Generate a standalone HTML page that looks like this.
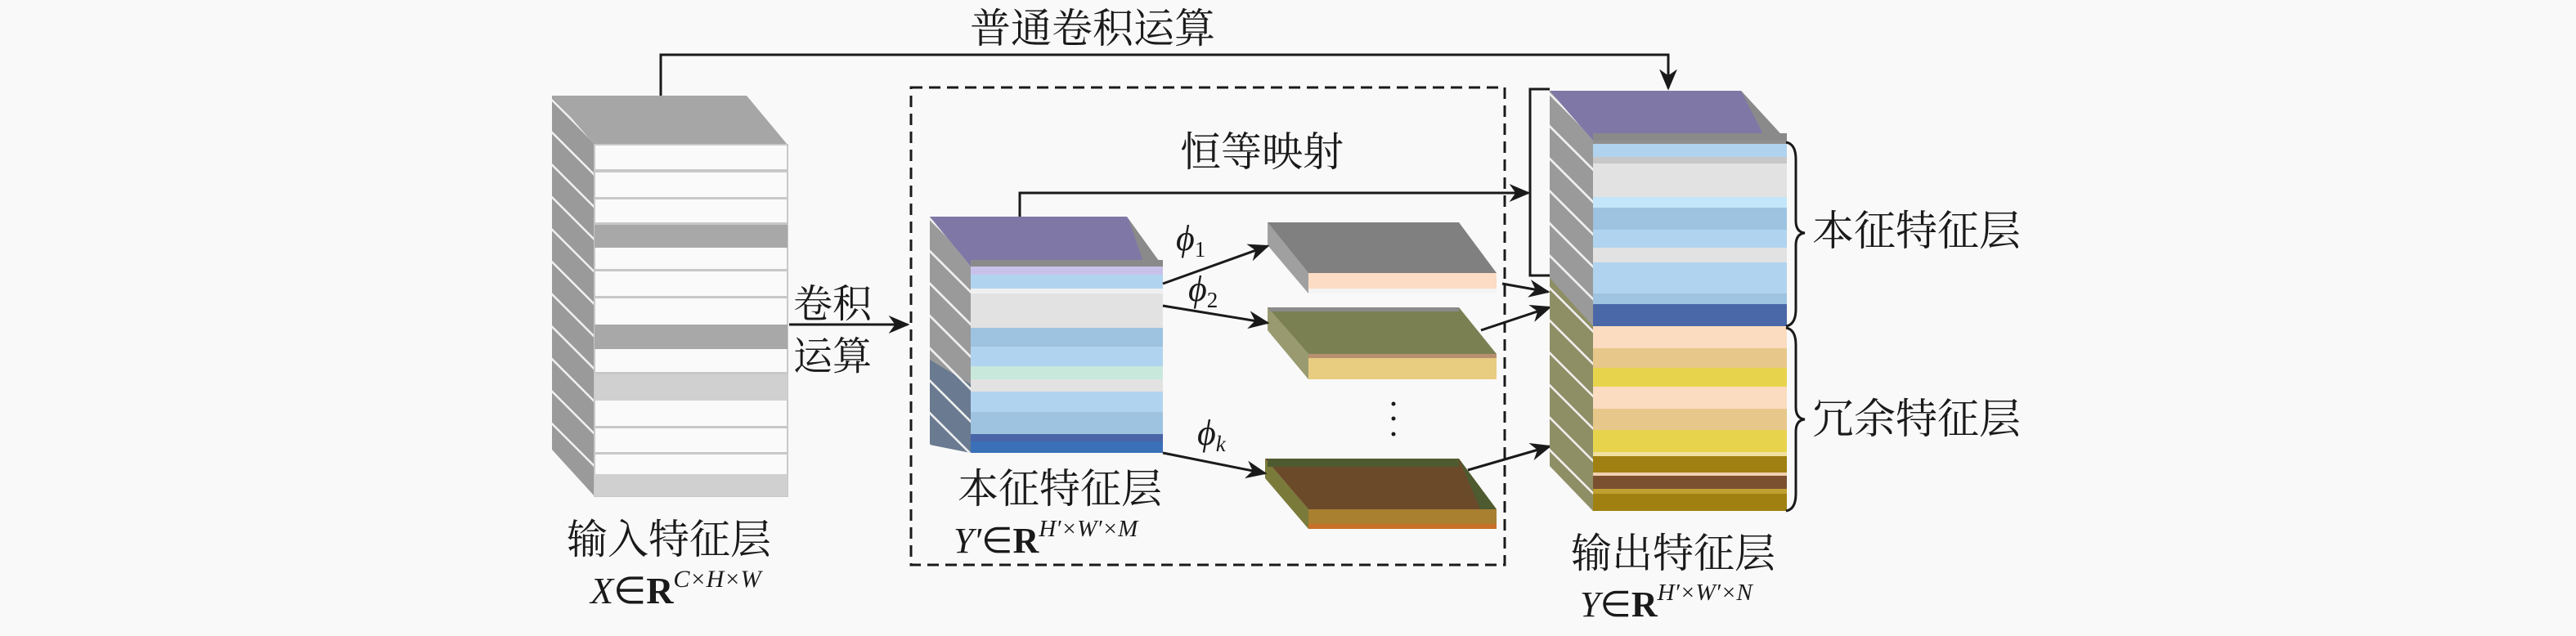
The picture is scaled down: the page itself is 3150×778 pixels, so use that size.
<!DOCTYPE html>
<html><head><meta charset="utf-8"><style>
html,body{margin:0;padding:0;background:#f9f9f9;}
svg{display:block}
.cj{font-family:"Noto Serif CJK SC","Liberation Serif",serif;fill:#1a1a1a}
.m{font-family:"Liberation Serif",serif;font-style:italic;fill:#1a1a1a}
.b{font-family:"Liberation Serif",serif;font-weight:bold;font-style:normal}
.e{font-family:"Liberation Serif",serif;font-style:normal}
</style></head><body>
<svg width="3150" height="778" viewBox="0 0 3150 778" xmlns="http://www.w3.org/2000/svg">
<defs>
<pattern id="h" patternUnits="userSpaceOnUse" width="28" height="28" patternTransform="rotate(45)">
<rect width="28" height="28" fill="#9a9a9a"/><rect x="0" y="0" width="28" height="2.5" fill="#f0f0f0"/>
</pattern>
<pattern id="h2" patternUnits="userSpaceOnUse" width="28" height="28" patternTransform="rotate(45)">
<rect width="28" height="28" fill="rgba(0,0,0,0)"/><rect x="0" y="0" width="28" height="2.5" fill="#f0f0f0"/>
</pattern>
<marker id="arB" viewBox="0 0 10 10" refX="9" refY="5" markerWidth="26" markerHeight="22" markerUnits="userSpaceOnUse" orient="auto" preserveAspectRatio="none">
<path d="M0,0 L10,5 L0,10 L3,5 z" fill="#1a1a1a"/></marker>
</defs>
<rect width="3150" height="778" fill="#f9f9f9"/>

<text x="1336" y="52" class="cj" font-size="50" text-anchor="middle">普通卷积运算</text>
<polyline points="808,117 808,67 2040,67 2040,108" fill="none" stroke="#1a1a1a" stroke-width="3" marker-end="url(#arB)"/>

<!-- input stack -->
<polygon points="675,117 727,177 727,607 675,550" fill="url(#h)"/>
<polygon points="675,117 913,117 963,177 727,177" fill="#a6a6a6"/>
<rect x="727" y="177" width="236" height="430" fill="#fafafa" stroke="#c8c8c8" stroke-width="2"/>
<g fill="#c8c8c8">
<rect x="727" y="207" width="236" height="4"/><rect x="727" y="241" width="236" height="3"/>
<rect x="727" y="272" width="236" height="3"/><rect x="727" y="329" width="236" height="3"/>
<rect x="727" y="362" width="236" height="3"/><rect x="727" y="455" width="236" height="3"/>
<rect x="727" y="521" width="236" height="3"/><rect x="727" y="553" width="236" height="3"/>
</g>
<rect x="727" y="275" width="236" height="28" fill="#a8a8a8"/>
<rect x="727" y="397" width="236" height="30" fill="#a8a8a8"/>
<rect x="727" y="458" width="236" height="32" fill="#d0d0d0"/>
<rect x="727" y="580" width="236" height="27" fill="#d0d0d0"/>
<text x="818" y="677" class="cj" font-size="50" text-anchor="middle">输入特征层</text>
<text x="722" y="738" class="m" font-size="46">X<tspan class="e">∈</tspan><tspan class="b">R</tspan><tspan font-size="30" dy="-20">C×H×W</tspan></text>

<text x="1018" y="388" class="cj" font-size="48" text-anchor="middle">卷积</text>
<text x="1018" y="452" class="cj" font-size="48" text-anchor="middle">运算</text>
<line x1="965" y1="397" x2="1110" y2="397" stroke="#1a1a1a" stroke-width="3" marker-end="url(#arB)"/>

<rect x="1114" y="107" width="726" height="584" fill="none" stroke="#1a1a1a" stroke-width="3" stroke-dasharray="14,8"/>

<text x="1543" y="203" class="cj" font-size="50" text-anchor="middle">恒等映射</text>
<polyline points="1247,265 1247,236 1869,236" fill="none" stroke="#1a1a1a" stroke-width="3" marker-end="url(#arB)"/>
<polyline points="1895,109 1871,109 1871,337 1895,337" fill="none" stroke="#1a1a1a" stroke-width="3"/>

<!-- middle stack -->
<polygon points="1137,265 1187,326 1187,554 1137,544" fill="url(#h)"/>
<polygon points="1137,440 1187,470 1187,554 1137,544" fill="#3a5a88" opacity="0.5"/>
<polygon points="1137,265 1137,544 1187,554 1187,326" fill="url(#h2)"/>
<polygon points="1137,265 1378,265 1422,326 1187,326" fill="#7f78a6"/>
<polygon points="1380,268 1422,326 1400,326" fill="#8a8a8a"/>
<rect x="1187" y="318" width="235" height="8" fill="#8a8a8a"/>
<rect x="1187" y="326" width="235" height="10" fill="#c8c2ea"/>
<rect x="1187" y="336" width="235" height="17" fill="#b0d4f0"/>
<rect x="1187" y="353" width="235" height="6" fill="#f0f0f0"/>
<rect x="1187" y="359" width="235" height="42" fill="#e2e2e2"/>
<rect x="1187" y="401" width="235" height="23" fill="#9dc3e0"/>
<rect x="1187" y="424" width="235" height="24" fill="#b0d4f0"/>
<rect x="1187" y="448" width="235" height="16" fill="#c8e8dc"/>
<rect x="1187" y="464" width="235" height="15" fill="#e2e2e2"/>
<rect x="1187" y="479" width="235" height="25" fill="#b0d4f0"/>
<rect x="1187" y="504" width="235" height="27" fill="#9dc3e0"/>
<rect x="1187" y="531" width="235" height="9" fill="#4a64a8"/>
<rect x="1187" y="540" width="235" height="14" fill="#3a70b8"/>
<text x="1296" y="615" class="cj" font-size="50" text-anchor="middle">本征特征层</text>
<text x="1166" y="676" class="m" font-size="44">Y′<tspan class="e">∈</tspan><tspan class="b">R</tspan><tspan font-size="29" dy="-20">H′×W′×M</tspan></text>

<!-- slabs -->
<polygon points="1550,272 1600,334 1600,359 1550,300" fill="#a0a0a0"/>
<polygon points="1550,272 1784,272 1830,334 1600,334" fill="#808080"/>
<rect x="1600" y="334" width="230" height="19" fill="#fcdcc4"/>
<rect x="1600" y="353" width="230" height="6" fill="#f4f4f4"/>

<polygon points="1550,376 1600,433 1600,464 1550,404" fill="#9a9a70"/>
<polygon points="1550,376 1784,376 1830,433 1600,433" fill="#7a8052"/>
<rect x="1552" y="376" width="232" height="5" fill="#8a8a8a"/>
<rect x="1600" y="433" width="230" height="5" fill="#b89070"/>
<rect x="1600" y="438" width="230" height="26" fill="#e8cc80"/>

<polygon points="1547,561 1600,623 1600,647 1547,585" fill="#7a7a3a"/>
<polygon points="1547,561 1784,561 1830,623 1600,623" fill="#6b4a2a"/>
<rect x="1550" y="561" width="234" height="10" fill="#4e5a30"/>
<polygon points="1784,561 1830,623 1810,623" fill="#4e5a30"/>
<rect x="1600" y="623" width="230" height="20" fill="#a88030"/>
<rect x="1600" y="641" width="230" height="6" fill="#c87028"/>

<circle cx="1704" cy="494" r="2.5" fill="#1a1a1a"/><circle cx="1704" cy="512" r="2.5" fill="#1a1a1a"/><circle cx="1704" cy="531" r="2.5" fill="#1a1a1a"/>

<line x1="1422" y1="347" x2="1550" y2="301" stroke="#1a1a1a" stroke-width="3" marker-end="url(#arB)"/>
<line x1="1422" y1="374" x2="1550" y2="395" stroke="#1a1a1a" stroke-width="3" marker-end="url(#arB)"/>
<line x1="1422" y1="554" x2="1547" y2="579" stroke="#1a1a1a" stroke-width="3" marker-end="url(#arB)"/>
<text x="1438" y="306" class="m" font-size="44">ϕ<tspan font-size="27" dy="8" font-style="normal">1</tspan></text>
<text x="1453" y="368" class="m" font-size="44">ϕ<tspan font-size="27" dy="8" font-style="normal">2</tspan></text>
<text x="1464" y="544" class="m" font-size="44">ϕ<tspan font-size="27" dy="8">k</tspan></text>

<line x1="1837" y1="347" x2="1893" y2="357" stroke="#1a1a1a" stroke-width="3" marker-end="url(#arB)"/>
<line x1="1811" y1="404" x2="1895" y2="376" stroke="#1a1a1a" stroke-width="3" marker-end="url(#arB)"/>
<line x1="1795" y1="575" x2="1895" y2="546" stroke="#1a1a1a" stroke-width="3" marker-end="url(#arB)"/>

<!-- output stack -->
<polygon points="1895,111 1948,172 1948,625 1895,570" fill="url(#h)"/>
<polygon points="1895,340 1948,399 1948,625 1895,570" fill="#8a8a50" opacity="0.7"/>
<polygon points="1895,111 1948,172 1948,625 1895,570" fill="url(#h2)"/>
<polygon points="1895,111 2129,111 2185,172 1948,172" fill="#7f78a6"/>
<polygon points="2129,111 2185,172 2160,172" fill="#8a8a8a"/>
<rect x="1948" y="163" width="237" height="9" fill="#8a8a8a"/>
<rect x="1948" y="172" width="237" height="4" fill="#909090"/>
<rect x="1948" y="176" width="237" height="16" fill="#b0d4f0"/>
<rect x="1948" y="192" width="237" height="8" fill="#c8c8c8"/>
<rect x="1948" y="200" width="237" height="41" fill="#e2e2e2"/>
<rect x="1948" y="241" width="237" height="13" fill="#c4e6fa"/>
<rect x="1948" y="254" width="237" height="27" fill="#9dc3e0"/>
<rect x="1948" y="281" width="237" height="22" fill="#b0d4f0"/>
<rect x="1948" y="303" width="237" height="18" fill="#e2e2e2"/>
<rect x="1948" y="321" width="237" height="38" fill="#b0d4f0"/>
<rect x="1948" y="359" width="237" height="13" fill="#9dc3e0"/>
<rect x="1948" y="372" width="237" height="27" fill="#4a68a8"/>
<rect x="1948" y="399" width="237" height="27" fill="#fcdcc0"/>
<rect x="1948" y="426" width="237" height="24" fill="#e8c88a"/>
<rect x="1948" y="450" width="237" height="23" fill="#e8d44c"/>
<rect x="1948" y="473" width="237" height="27" fill="#fcdcc0"/>
<rect x="1948" y="500" width="237" height="26" fill="#e8c88a"/>
<rect x="1948" y="526" width="237" height="27" fill="#e8d44c"/>
<rect x="1948" y="553" width="237" height="5" fill="#f0e0a0"/>
<rect x="1948" y="558" width="237" height="20" fill="#a08010"/>
<rect x="1948" y="578" width="237" height="4" fill="#f0d0b0"/>
<rect x="1948" y="582" width="237" height="16" fill="#7a5030"/>
<rect x="1948" y="598" width="237" height="6" fill="#c0a030"/>
<rect x="1948" y="604" width="237" height="21" fill="#a08010"/>

<path d="M2184,174 Q2196,176 2196,195 L2196,270 Q2196,284 2207,285 Q2196,286 2196,300 L2196,378 Q2196,397 2184,399" fill="none" stroke="#1a1a1a" stroke-width="3"/>
<path d="M2184,401 Q2196,403 2196,422 L2196,498 Q2196,512 2207,513 Q2196,514 2196,528 L2196,604 Q2196,623 2184,625" fill="none" stroke="#1a1a1a" stroke-width="3"/>
<text x="2216" y="300" class="cj" font-size="51">本征特征层</text>
<text x="2216" y="530" class="cj" font-size="51">冗余特征层</text>
<text x="2046" y="694" class="cj" font-size="50" text-anchor="middle">输出特征层</text>
<text x="1932" y="754" class="m" font-size="44">Y<tspan class="e">∈</tspan><tspan class="b">R</tspan><tspan font-size="29" dy="-20">H′×W′×N</tspan></text>
</svg>
</body></html>
